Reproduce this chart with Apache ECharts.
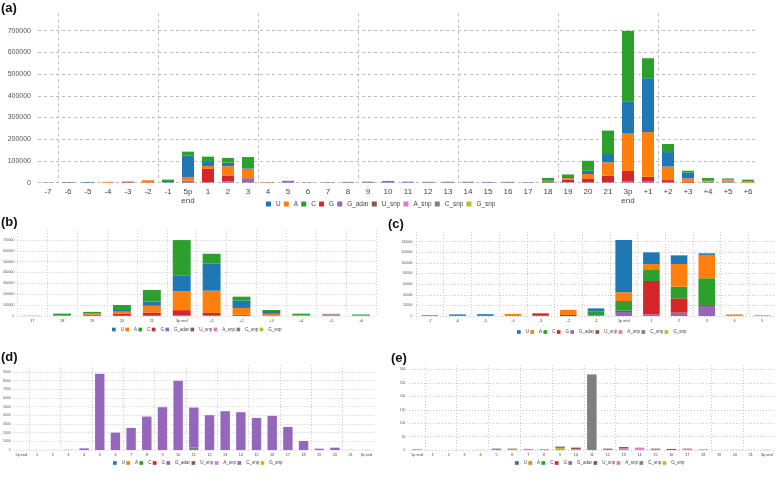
<!DOCTYPE html>
<html><head><meta charset="utf-8">
<script src="https://cdn.jsdelivr.net/npm/echarts@6/dist/echarts.min.js"></script>
<style>html,body{margin:0;padding:0;background:#fff}#c{width:776px;height:484px}</style>
</head><body><div id="c"></div>
<script>
// ---------- series names (legend order) ----------
const seriesNames = ['U','A','C','G','G_adar','U_snp','A_snp','C_snp','G_snp'];

// ---------- panel (a) ----------
const catsA = ['-7','-6','-5','-4','-3','-2','-1','5p\nend','1','2','3','4','5','6','7','8','9','10','11','12','13','14','15','16','17','18','19','20','21','3p\nend','+1','+2','+3','+4','+5','+6'];
const a_U     = [0,2500,3000,0,0,0,6200,98500,22000,16300,3000, 0,0,0,0,0,0,0,0,0,0,0,0,0,0, 0,5000,15000,38000,149000,248000,67000,26000,0,3000,0];
const a_A     = [0,0,0,4000,0,9500,0,16400,11300,42700,44000, 2000,0,0,0,0,0,0,0,0,0,0,0,0,0, 2000,8000,20000,62000,172000,205000,62000,16000,5000,5000,5000];
const a_C     = [0,0,0,0,0,0,6300,18200,20700,21900,50300, 0,0,0,0,0,0,0,0,0,0,0,0,0,0, 13000,12000,46000,108000,324000,92000,37000,9000,12500,2000,9000];
const a_G     = [0,0,0,0,3500,2000,0,0,62800,27000,0, 0,0,0,0,0,0,0,0,0,0,0,0,0,0, 3000,10000,18000,29000,49000,20000,10000,4000,0,0,0];
const a_Gadar = [0,0,0,0,0,0,1000,7500,3100,6300,18800, 190,8800,2000,2550,3860,4940,7990,4630,4020,4480,4360,3700,3940,2660, 1040,1000,2000,3000,5000,8000,2000,0,0,0,0];
const a_Usnp  = [0,500,500,0,1500,0,900,2500,0,0,2000, 1000,0,0,0,0,0,0,0,0,0,0,0,0,0, 3000,1000,0,0,0,0,0,0,2000,4000,0];
const a_Asnp  = [500,0,0,0,0,0,0,0,0,0,0, 0,0,0,0,0,0,0,0,0,0,0,0,0,0, 0,1000,0,0,0,0,0,0,0,3000,0];
const a_Csnp  = [1500,0,0,0,0,0,0,0,0,0,0, 0,0,0,0,0,0,0,270,0,0,0,0,0,0, 0,0,0,0,0,0,0,0,2000,3000,0];
const a_Gsnp  = [0,0,0,0,0,0,0,0,0,0,0, 0,0,0,0,0,0,0,0,0,0,0,0,0,0, 0,0,0,0,0,0,0,0,0,0,0];

// ---------- panel (b): positions 17 .. +6 of panel (a) ----------
const catsB = ['17','18','19','20','21','3p end','+1','+2','+3','+4','+5','+6'];
const bStart = 24;

// ---------- panel (c) ----------
const catsC = ['-7','-6','-5','-4','-3','-2','-1','5p end','1','2','3','4','5'];
const c_U     = [0,2500,3000,0,0,0,6200,98500,22000,16300,3000,0,0];
const c_A     = [0,0,0,4000,0,9500,0,16400,11300,42700,44000,2000,0];
const c_C     = [0,0,0,0,0,0,6300,18200,20700,21900,50300,0,0];
const c_G     = [0,0,0,0,3500,2000,0,0,62800,27000,0,0,0];
const c_Gadar = [0,0,0,0,0,0,1000,7500,3100,6300,18800,0,0];
const c_Usnp  = [0,500,500,0,1500,0,900,2500,0,0,2000,1000,0];
const c_Asnp  = [500,0,0,0,0,0,0,0,0,0,0,0,600];
const c_Csnp  = [1500,0,0,0,0,0,0,0,0,0,0,0,600];
const c_Gsnp  = [0,0,0,0,0,0,0,0,0,0,0,0,600];

// ---------- panels (d) and (e) ----------
const catsDE = ['5p end','1','2','3','4','5','6','7','8','9','10','11','12','13','14','15','16','17','18','19','20','21','3p end'];
const d_Gadar = [0,10,10,30,190,8800,2000,2550,3860,4940,7990,4630,4020,4480,4360,3700,3940,2660,1040,150,270,20,20];
const d_Csnp  = [0,0,0,0,0,0,0,0,0,0,0,270,0,0,0,0,0,0,0,0,0,0,0];
const e_Usnp  = [1,0,0,0,0,2,3,0,1,0,6,0,4,5,0,3,4,2,1,0,0.5,0.5,0];
const e_Asnp  = [2,0,0,0,0,0,0,4,0,0,3,0,1,6,8,0,0,3,0,0,0,0,1];
const e_Csnp  = [0,0,0,0,0,3,0,0,1.5,6,0,282,0,0,1,2,0,0,1,0,0,0,0];
const e_Gsnp  = [0,0,0,0,1,0,2,0,0,7,0,0,0,0,0,0,0,0,0,0,0,0,0];

// ---------- y-axis ticks ----------
const yTicksA = {max:780000, interval:100000};
const yTicksB = {max:790000, interval:100000};
const yTicksC = {max:158000, interval:20000};
const yTicksD = {max:9800, interval:1000};
const yTicksE = {max:317, interval:50};

// ================= build =================
const palette = {U:'#1f77b4',A:'#ff7f0e',C:'#2ca02c',G:'#d62728',G_adar:'#9467bd',U_snp:'#8c564b',A_snp:'#e377c2',C_snp:'#7f7f7f',G_snp:'#bcbd22'};
const zeros = n => new Array(n).fill(0);
const dataA = {U:a_U,A:a_A,C:a_C,G:a_G,G_adar:a_Gadar,U_snp:a_Usnp,A_snp:a_Asnp,C_snp:a_Csnp,G_snp:a_Gsnp};
const dataB = {}; seriesNames.forEach(n => dataB[n] = dataA[n].slice(bStart, bStart + catsB.length));
const dataC = {U:c_U,A:c_A,C:c_C,G:c_G,G_adar:c_Gadar,U_snp:c_Usnp,A_snp:c_Asnp,C_snp:c_Csnp,G_snp:c_Gsnp};
const dataD = {U:zeros(23),A:zeros(23),C:zeros(23),G:zeros(23),G_adar:d_Gadar,U_snp:zeros(23),A_snp:zeros(23),C_snp:d_Csnp,G_snp:zeros(23)};
const dataE = {U:zeros(23),A:zeros(23),C:zeros(23),G:zeros(23),G_adar:zeros(23),U_snp:e_Usnp,A_snp:e_Asnp,C_snp:e_Csnp,G_snp:e_Gsnp};

const orderAB = ['G_snp','C_snp','A_snp','U_snp','G_adar','G','A','U','C'];
const orderC  = ['G_snp','C_snp','A_snp','G_adar','U_snp','G','C','A','U'];
const orderDE = ['G_snp','C_snp','A_snp','U_snp','G_adar','G','C','A','U'];

const FONT = 'Liberation Sans, Arial, Helvetica, sans-serif';
function mkSeries(key, order, data, idx){
  return order.map(n => ({
    name:n, type:'bar', stack:key, xAxisIndex:idx, yAxisIndex:idx,
    data:data[n], barCategoryGap:'40%',
    itemStyle:{color:palette[n]}, emphasis:{disabled:true}
  }));
}
function lineColors(n, c){ const a = new Array(n).fill(c); a[n-1] = 'rgba(0,0,0,0)'; return a; }

const panels = [
  {key:'a', cats:catsA, data:dataA, order:orderAB, y:yTicksA, grid:{left:38, width:720, top:13.3, height:169.4},
   xFont:8, yFont:7, xMargin:5, yMargin:7, lh:8.5, split:(i)=>i%5===1, xLines:8, dash:[3,3], lc:'#bdbdbd',
   leg:{left:266, top:201, w:5, gap:3.2, font:6.4}},
  {key:'b', cats:catsB, data:dataB, order:orderAB, y:yTicksB, grid:{left:16, width:360, top:230.2, height:85.8},
   xFont:3.8, yFont:3.4, xMargin:3, yMargin:3, lh:4, split:0, xLines:0, dash:[1,2], lc:'#c8c8c8',
   leg:{left:112, top:327, w:3.7, gap:1.4, font:4.5}},
  {key:'c', cats:catsC, data:dataC, order:orderC, y:yTicksC, grid:{left:416, width:360, top:232.1, height:83.9},
   xFont:3.8, yFont:3.4, xMargin:3, yMargin:3.5, lh:4, split:0, xLines:0, dash:[1,2], lc:'#c8c8c8',
   leg:{left:517, top:329.5, w:3.7, gap:1.4, font:4.5}},
  {key:'d', cats:catsDE, data:dataD, order:orderDE, y:yTicksD, grid:{left:13.1, width:361, top:365.1, height:84.9},
   xFont:3.8, yFont:3.4, xMargin:3, yMargin:3, lh:4, split:(i)=>i%2===1, xLines:12, dash:[1,2], lc:'#c8c8c8',
   leg:{left:113, top:460.5, w:3.7, gap:1.4, font:4.5}},
  {key:'e', cats:catsDE, data:dataE, order:orderDE, y:yTicksE, grid:{left:409, width:365.7, top:365, height:85},
   xFont:3.8, yFont:3.4, xMargin:3, yMargin:3.5, lh:4, split:(i)=>i%2===1, xLines:12, dash:[1,2], lc:'#c8c8c8',
   leg:{left:515, top:460.5, w:3.7, gap:1.4, font:4.5}}
];

const option = {animation:false, textStyle:{fontFamily:FONT}, grid:[], xAxis:[], yAxis:[], series:[], legend:[],
  title:[
    {text:'(a)', left:1, top:2},
    {text:'(b)', left:1, top:216},
    {text:'(c)', left:388, top:218},
    {text:'(d)', left:1, top:351},
    {text:'(e)', left:391, top:352}
  ].map(t => Object.assign(t, {padding:0, textStyle:{fontSize:13, fontWeight:'bold', color:'#111', fontFamily:FONT}}))
};

panels.forEach((p, i) => {
  option.grid.push(Object.assign({containLabel:false}, p.grid));
  const nY = Math.floor(p.y.max / p.y.interval) + 2;
  const xSplitColor = p.xLines ? lineColors(p.xLines, p.lc) : p.lc;
  option.xAxis.push({type:'category', gridIndex:i, data:p.cats, boundaryGap:true,
    axisLine:{show:false}, axisTick:{show:false},
    axisLabel:{interval:0, fontSize:p.xFont, color:'#444', margin:p.xMargin, lineHeight:p.lh, fontFamily:FONT},
    splitLine:{show:true, interval:p.split, lineStyle:{color:xSplitColor, type:p.dash, width:1}}});
  option.yAxis.push({type:'value', gridIndex:i, min:0, max:p.y.max, interval:p.y.interval,
    axisLine:{show:false}, axisTick:{show:false},
    axisLabel:{fontSize:p.yFont, color:'#555', margin:p.yMargin, showMaxLabel:false, fontFamily:FONT,
      formatter:(v)=>String(v)},
    splitLine:{show:true, lineStyle:{color:lineColors(nY, p.lc), type:p.dash, width:1}}});
  option.series.push(...mkSeries(p.key, p.order, p.data, i));
  option.legend.push({data:seriesNames, left:p.leg.left, top:p.leg.top, orient:'horizontal', padding:0,
    itemWidth:p.leg.w, itemHeight:p.leg.w, itemGap:p.leg.gap, icon:'rect', selectedMode:false,
    textStyle:{fontSize:p.leg.font, color:'#444', fontFamily:FONT}});
});

const chart = echarts.init(document.getElementById('c'), null, {renderer:'canvas'});
chart.setOption(option);
</script>
</body></html>
